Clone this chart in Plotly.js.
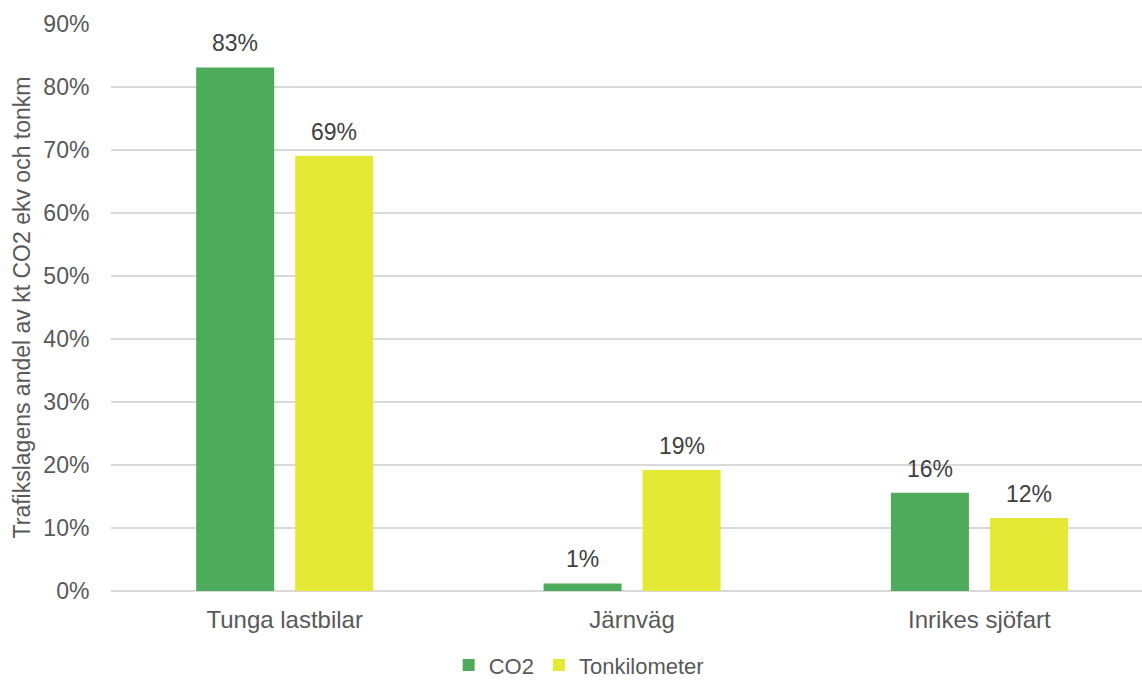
<!DOCTYPE html>
<html>
<head>
<meta charset="utf-8">
<script src="https://cdn.plot.ly/plotly-3.0.1.min.js"></script>
<style>html,body{margin:0;padding:0;background:#fff;}#chart{width:1142px;height:681px;}</style>
</head>
<body>
<div id="chart"></div>
<script>
const categories = ["Tunga lastbilar", "Järnväg", "Inrikes sjöfart"];
const co2Values = [0.831, 0.012, 0.156];
const tonkmValues = [0.691, 0.192, 0.116];
const seriesNames = ["CO2", "Tonkilometer"];
const yTickVals = [0, 0.1, 0.2, 0.3, 0.4, 0.5, 0.6, 0.7, 0.8, 0.9];

const font = "'Liberation Sans', Arial, sans-serif";
const colors = ["#4EAB5B", "#E3E935"];
const bargap = 0.43, bargroupgap = 0.212;

const traces = [co2Values, tonkmValues].map((vals, k) => ({
  type: "bar", name: seriesNames[k], x: categories, y: vals,
  marker: {color: colors[k]}, hoverinfo: "none"
}));

// data labels placed through the axes, above each bar
const offset = (1 - bargap) / 4;
const annotations = [];
[co2Values, tonkmValues].forEach((vals, k) => {
  vals.forEach((v, i) => {
    annotations.push({
      xref: "x", yref: "y", x: i + (k === 0 ? -offset : offset), y: v,
      text: Math.round(v * 100) + "%", showarrow: false,
      yanchor: "bottom", yshift: 9,
      font: {family: font, size: 23, color: "#404040"}
    });
  });
});

const layout = {
  width: 1142, height: 681,
  margin: {l: 111, r: 0, t: 24, b: 90, autoexpand: false},
  paper_bgcolor: "#fff", plot_bgcolor: "#fff",
  font: {family: font, color: "#595959", size: 23},
  barmode: "group", bargap: bargap, bargroupgap: bargroupgap,
  showlegend: true,
  legend: {orientation: "h", x: 0.4536, xanchor: "center", y: -0.131, yanchor: "middle",
           font: {family: font, size: 22, color: "#595959"}, itemwidth: 30, traceorder: "normal"},
  annotations: annotations,
  xaxis: {range: [-0.5, 2.468], showgrid: false, zeroline: false, showline: false,
          ticks: "outside", ticklen: 7, tickcolor: "rgba(0,0,0,0)",
          tickfont: {family: font, size: 24, color: "#595959"}, fixedrange: true},
  yaxis: {range: [0, 0.9], tickvals: yTickVals, tickformat: ".0%",
          showgrid: true, gridcolor: "#D9D9D9", gridwidth: 1.5,
          zeroline: true, zerolinecolor: "#D9D9D9", zerolinewidth: 1.5, showline: false,
          ticks: "outside", ticklen: 16, tickcolor: "rgba(0,0,0,0)",
          tickfont: {family: font, size: 23, color: "#595959"},
          title: {text: "Trafikslagens andel av kt CO2 ekv och tonkm", standoff: 6,
                  font: {family: font, size: 23, color: "#595959"}}, fixedrange: true}
};
Plotly.newPlot("chart", traces, layout, {displayModeBar: false, staticPlot: true});
</script>
</body>
</html>
